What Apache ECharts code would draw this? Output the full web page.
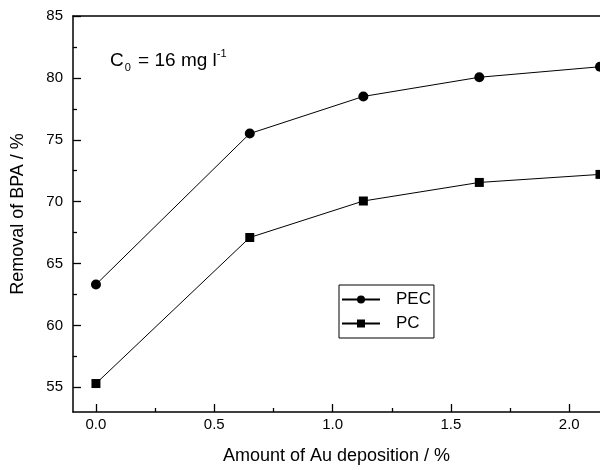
<!DOCTYPE html>
<html lang="en">
<head>
    <meta charset="UTF-8" />
    <title>Removal of BPA vs Au deposition</title>
    <script src="https://cdn.jsdelivr.net/npm/echarts@6.0.0/dist/echarts.min.js"></script>
    <style>
        html, body {
            margin: 0;
            padding: 0;
            background: #fff;
        }
        #chart {
            width: 600px;
            height: 470px;
        }
    </style>
</head>
<body>
<div id="chart"></div>
<script>
    // data
    const auAmount = [0, 0.65, 1.13, 1.62, 2.13];
    const pecRemoval = [63.3, 75.5, 78.5, 80.05, 80.9];
    const pcRemoval = [55.3, 67.1, 70.05, 71.55, 72.2];

    const xMajorTicks = [0, 0.5, 1.0, 1.5, 2.0];
    const xMinorTicks = [0.25, 0.75, 1.25, 1.75];
    const yMajorTicks = [55, 60, 65, 70, 75, 80, 85];
    const yMinorTicks = [57.5, 62.5, 67.5, 72.5, 77.5, 82.5];

    const xMin = -0.097, xMax = 2.13;
    const yMin = 53, yMax = 85;

    const font = '"Liberation Sans", Arial, sans-serif';

    const pairs = arr => auAmount.map((x, i) => [x, arr[i]]);

    const chart = echarts.init(document.getElementById('chart'));

    const axisLine = { onZero: false, lineStyle: { color: '#000', width: 1.5 } };
    const tickStyle = { color: '#000', width: 1.3 };

    chart.setOption({
        animation: false,
        grid: { left: 73, top: 16, right: 0, bottom: 55 },
        xAxis: [{
            type: 'value',
            min: xMin,
            max: xMax,
            position: 'bottom',
            name: 'Amount of Au deposition / %',
            nameLocation: 'middle',
            nameGap: 35,
            nameTextStyle: { fontFamily: font, fontSize: 18, color: '#000' },
            axisLine: axisLine,
            axisTick: { show: true, inside: true, length: 8, customValues: xMajorTicks, lineStyle: tickStyle },
            axisLabel: {
                customValues: xMajorTicks, margin: 5,
                fontFamily: font, fontSize: 15, color: '#000',
                formatter: v => v.toFixed(1)
            },
            splitLine: { show: false }
        }, {
            type: 'value',
            min: xMin,
            max: xMax,
            position: 'bottom',
            axisLine: { show: false, onZero: false },
            axisTick: { show: true, inside: true, length: 4, customValues: xMinorTicks, lineStyle: tickStyle },
            axisLabel: { show: false },
            splitLine: { show: false }
        }, {
            // top frame line
            type: 'value',
            min: xMin,
            max: xMax,
            position: 'top',
            axisLine: axisLine,
            axisTick: { show: false },
            axisLabel: { show: false },
            splitLine: { show: false }
        }],
        yAxis: [{
            type: 'value',
            min: yMin,
            max: yMax,
            position: 'left',
            name: 'Removal of BPA / %',
            nameLocation: 'middle',
            nameGap: 46,
            nameTextStyle: { fontFamily: font, fontSize: 18, color: '#000' },
            axisLine: axisLine,
            axisTick: { show: true, inside: true, length: 8, customValues: yMajorTicks, lineStyle: tickStyle },
            axisLabel: {
                customValues: yMajorTicks, margin: 10,
                fontFamily: font, fontSize: 15, color: '#000'
            },
            splitLine: { show: false }
        }, {
            type: 'value',
            min: yMin,
            max: yMax,
            position: 'left',
            axisLine: { show: false, onZero: false },
            axisTick: { show: true, inside: true, length: 4, customValues: yMinorTicks, lineStyle: tickStyle },
            axisLabel: { show: false },
            splitLine: { show: false }
        }],
        legend: {
            left: 339,
            top: 285,
            orient: 'vertical',
            itemWidth: 38,
            itemHeight: 10,
            itemGap: 7,
            padding: [6, 3, 6, 2],
            borderColor: '#000',
            borderWidth: 1,
            textStyle: { fontFamily: font, fontSize: 17, color: '#000', padding: [0, 0, 0, 11] },
            data: ['PEC', 'PC']
        },
        graphic: [{
            type: 'text',
            left: 110,
            top: 48,
            style: {
                text: '{a|C}{s|0}{a| = 16 mg l}{p|-1}',
                rich: {
                    a: { fontFamily: font, fontSize: 19, lineHeight: 25, fill: '#000', verticalAlign: 'middle' },
                    s: { fontFamily: font, fontSize: 11, lineHeight: 25, fill: '#000', verticalAlign: 'bottom', padding: [0, 2, 0, 1] },
                    p: { fontFamily: font, fontSize: 11, lineHeight: 25, fill: '#000', verticalAlign: 'top' }
                }
            }
        }],
        series: [{
            name: 'PEC',
            type: 'line',
            data: pairs(pecRemoval),
            symbol: 'circle',
            symbolSize: 10,
            clip: false,
            color: '#000',
            lineStyle: { color: '#000', width: 1 },
            itemStyle: { color: '#000' }
        }, {
            name: 'PC',
            type: 'line',
            data: pairs(pcRemoval),
            symbol: 'rect',
            symbolSize: 9,
            clip: false,
            color: '#000',
            lineStyle: { color: '#000', width: 1 },
            itemStyle: { color: '#000' }
        }]
    });
</script>
</body>
</html>
